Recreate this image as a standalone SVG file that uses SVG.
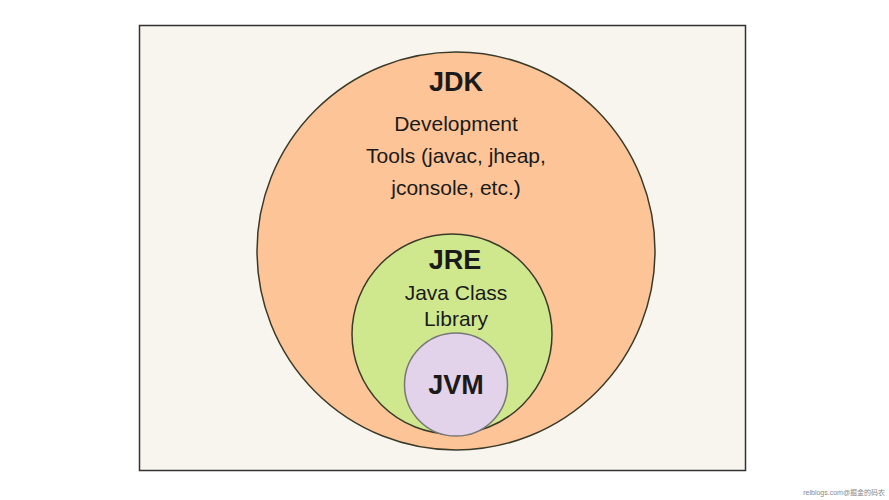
<svg xmlns="http://www.w3.org/2000/svg" width="889" height="500" viewBox="0 0 889 500">
<style>
text{font-family:"Liberation Sans",Arial,sans-serif;fill:#1a1a1a;text-anchor:middle}
.t{font-size:27px;font-weight:bold}
.b{font-size:21px}
</style>
<rect width="889" height="500" fill="#fff"/>
<rect x="139.5" y="25.5" width="606" height="445" fill="#f8f5ee" stroke="#333" stroke-width="1.5"/>
<g id="jdk"><circle cx="456" cy="251" r="199" fill="#fdc597" stroke="#3a3a2a" stroke-width="1.5"/>
<text class="t" x="456" y="91">JDK</text>
<text class="b" x="456" y="131">Development</text>
<text class="b" x="456" y="163">Tools (javac, jheap,</text>
<text class="b" x="456" y="195">jconsole, etc.)</text></g>
<g id="jre"><circle cx="452" cy="334" r="100" fill="#cfe88e" stroke="#3a3a2a" stroke-width="1.5"/>
<text class="t" x="455" y="269">JRE</text>
<text class="b" x="456" y="300">Java Class</text>
<text class="b" x="456" y="326">Library</text></g>
<g id="jvm"><circle cx="456" cy="384.5" r="51.5" fill="#e2d3ea" stroke="#777" stroke-width="1.5"/>
<text class="t" x="456" y="394">JVM</text></g>
<text x="885" y="495" style="text-anchor:end;font-size:7px;fill:#888;font-family:'Liberation Sans','Noto Sans CJK SC',sans-serif">relblogs.com@掘金的码农</text>
</svg>
